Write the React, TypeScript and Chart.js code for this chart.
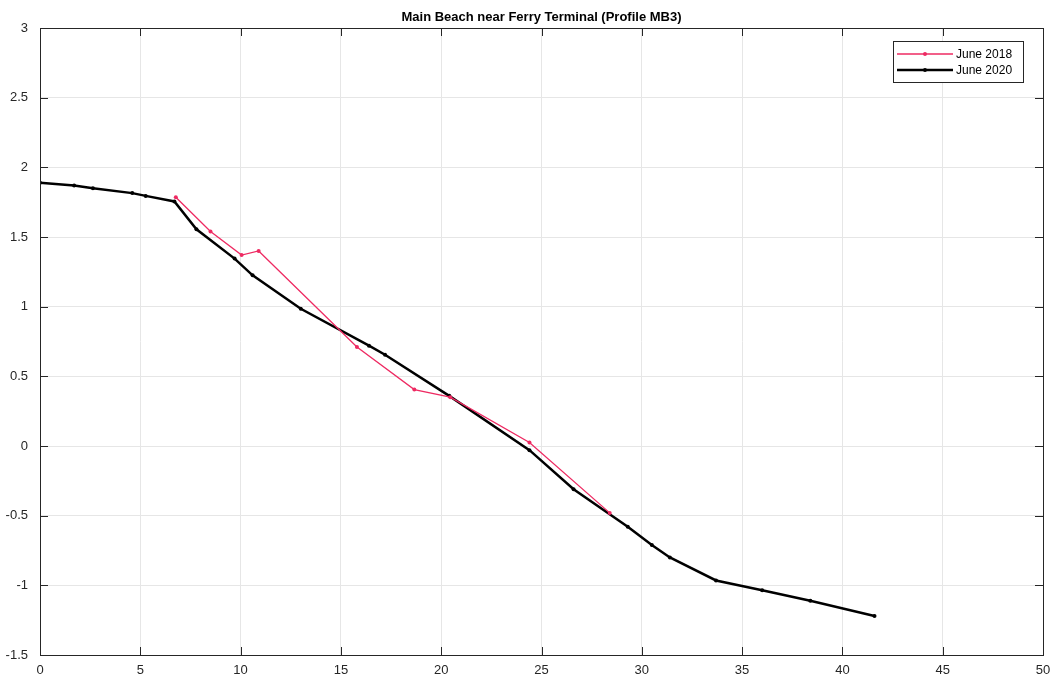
import React, { useEffect, useRef } from "react";
import { Chart, registerables } from "chart.js";

Chart.register(...registerables);

const TITLE = "Main Beach near Ferry Terminal (Profile MB3)";

const june2018X = [6.77, 8.5, 10.05, 10.9, 15.8, 18.66, 20.45, 24.4, 28.4];
const june2018Y = [1.785, 1.54, 1.37, 1.40, 0.71, 0.405, 0.35, 0.025, -0.48];

const june2020X = [0, 1.7, 2.64, 4.6, 5.27, 6.7, 7.8, 9.7, 10.6, 13.0, 16.4, 17.2, 20.4, 24.4, 26.6, 29.3, 30.5, 31.4, 33.7, 36.0, 38.4, 41.6];
const june2020Y = [1.89, 1.87, 1.85, 1.815, 1.795, 1.755, 1.555, 1.345, 1.225, 0.985, 0.72, 0.655, 0.36, -0.03, -0.31, -0.58, -0.71, -0.80, -0.965, -1.035, -1.11, -1.22];

const xTicks = [0, 5, 10, 15, 20, 25, 30, 35, 40, 45, 50];
const yTicks = [-1.5, -1, -0.5, 0, 0.5, 1, 1.5, 2, 2.5, 3];

const RED = "rgb(238,42,98)";
const BLACK = "#000000";
const FONT = "'Liberation Sans', Arial, Helvetica, sans-serif";

const framePlugin = {
  id: "matlabFrame",
  afterDatasetsDraw(chart: any) {
    const { ctx, chartArea: a, scales } = chart;
    ctx.save();
    ctx.strokeStyle = "#262626";
    ctx.lineWidth = 1;
    ctx.strokeRect(Math.round(a.left) + 0.5, Math.round(a.top) + 0.5, Math.round(a.right - a.left), Math.round(a.bottom - a.top));
    ctx.beginPath();
    const tl = 8;
    for (const v of xTicks) {
      const px = Math.round(scales.x.getPixelForValue(v)) + 0.5;
      ctx.moveTo(px, a.bottom);
      ctx.lineTo(px, a.bottom - tl);
      ctx.moveTo(px, a.top);
      ctx.lineTo(px, a.top + tl);
    }
    for (const v of yTicks) {
      const py = Math.round(scales.y.getPixelForValue(v)) + 0.5;
      ctx.moveTo(a.left, py);
      ctx.lineTo(a.left + tl, py);
      ctx.moveTo(a.right, py);
      ctx.lineTo(a.right - tl, py);
    }
    ctx.stroke();

    // title
    ctx.fillStyle = "#000";
    ctx.font = `bold 13px ${FONT}`;
    ctx.textAlign = "center";
    ctx.textBaseline = "middle";
    ctx.fillText(TITLE, (a.left + a.right) / 2, 17);

    // legend
    const bx = 893, by = 41, bw = 130, bh = 41;
    ctx.fillStyle = "#fff";
    ctx.fillRect(bx, by, bw, bh);
    ctx.strokeStyle = "#262626";
    ctx.strokeRect(bx + 0.5, by + 0.5, bw, bh);
    chart.data.datasets.forEach((ds: any, i: number) => {
      const yy = by + 13 + i * 16;
      ctx.strokeStyle = ds.borderColor;
      ctx.lineWidth = ds.borderWidth;
      ctx.beginPath();
      ctx.moveTo(bx + 4, yy);
      ctx.lineTo(bx + 60, yy);
      ctx.stroke();
      ctx.fillStyle = ds.borderColor;
      ctx.beginPath();
      ctx.arc(bx + 32, yy, 2, 0, Math.PI * 2);
      ctx.fill();
      ctx.fillStyle = "#000";
      ctx.font = `12px ${FONT}`;
      ctx.textAlign = "left";
      ctx.fillText(ds.label, bx + 63, yy + 1);
    });
    ctx.restore();
  },
};

export default function App() {
  const ref = useRef<HTMLCanvasElement>(null);
  useEffect(() => {
    document.body.style.margin = "0";
    const chart = new Chart(ref.current!, {
      type: "line",
      data: {
        datasets: [
          {
            label: "June 2018",
            data: june2018X.map((x, i) => ({ x, y: june2018Y[i] })),
            borderColor: RED,
            backgroundColor: RED,
            borderWidth: 1.3,
            pointRadius: 2,
            pointBorderWidth: 0,
            pointHoverRadius: 2,
            tension: 0,
          },
          {
            label: "June 2020",
            data: june2020X.map((x, i) => ({ x, y: june2020Y[i] })),
            borderColor: BLACK,
            backgroundColor: BLACK,
            borderWidth: 2.5,
            pointRadius: 2,
            pointBorderWidth: 0,
            pointHoverRadius: 2,
            tension: 0,
          },
        ],
      },
      options: {
        animation: false,
        responsive: false,
        maintainAspectRatio: false,
        layout: { padding: { top: 28, right: 0, left: 0, bottom: 0 } },
        plugins: { legend: { display: false }, title: { display: false }, tooltip: { enabled: false } },
        scales: {
          x: {
            type: "linear",
            min: 0,
            max: 50,
            afterBuildTicks: (s: any) => { s.ticks = xTicks.map((v) => ({ value: v })); },
            afterFit: (s: any) => { s.height = 29; s.paddingRight = 8; s.paddingLeft = 0; },
            grid: { color: "#e6e6e6", drawTicks: false },
            border: { display: false },
            ticks: { color: "#262626", font: { family: FONT, size: 13 }, padding: 8, maxRotation: 0, callback: (v: any) => String(v) },
          },
          y: {
            type: "linear",
            min: -1.5,
            max: 3,
            afterBuildTicks: (s: any) => { s.ticks = yTicks.map((v) => ({ value: v })); },
            afterFit: (s: any) => { s.width = 40; s.paddingTop = 0; s.paddingBottom = 0; },
            grid: { color: "#e6e6e6", drawTicks: false },
            border: { display: false },
            ticks: { color: "#262626", font: { family: FONT, size: 13 }, padding: 12, callback: (v: any) => String(v) },
          },
        },
      },
      plugins: [framePlugin],
    } as any);
    return () => chart.destroy();
  }, []);
  return (
    <div style={{ width: 1051, height: 684 }}>
      <canvas ref={ref} width={1051} height={684} style={{ display: "block" }} />
    </div>
  );
}
